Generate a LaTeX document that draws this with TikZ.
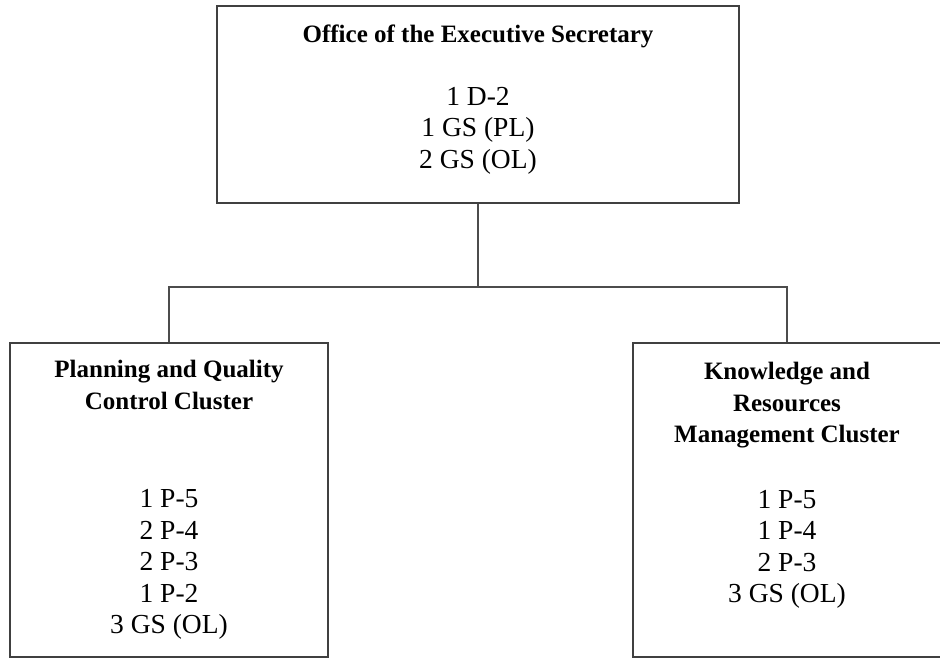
\documentclass[tikz,border=0pt]{standalone}
\usepackage{fontspec}
\setmainfont{Liberation Serif}
\usetikzlibrary{positioning}
\newcommand\headfont{\fontsize{25}{31.5}\selectfont\bfseries}

\begin{document}
\begin{tikzpicture}[x=1pt,y=-1pt,
    unit/.style={draw=black!75,line width=1.5pt,inner sep=0pt},
    staff/.style={align=center,inner sep=0pt,font=\fontsize{27.5}{31.5}\selectfont},
    link/.style={draw=black!70,line width=1.5pt}]
      \useasboundingbox (0,0) rectangle (940,658);
      \draw
        (478,104.5) node[unit,minimum width=522pt,minimum height=197pt] (exec){}
        (169,500) node[unit,minimum width=318pt,minimum height=314pt] (plan){}
        (787,500) node[unit,minimum width=308pt,minimum height=314pt] (know){};
      \node[staff,below=19pt of exec.north] (exectext)
        {{\headfont Office of the Executive Secretary}\\[31.5pt]
         1 D-2\\1 GS (PL)\\2 GS (OL)};
      \node[staff,below=18pt of plan.north] (plantext)
        {{\headfont Planning and Quality}\\{\headfont Control Cluster}\\[67pt]
         1 P-5\\2 P-4\\2 P-3\\1 P-2\\3 GS (OL)};
      \node[staff,below=20pt of know.north] (knowtext)
        {{\headfont Knowledge and}\\{\headfont Resources}\\{\headfont Management Cluster}\\[34pt]
         1 P-5\\1 P-4\\2 P-3\\3 GS (OL)};
      \coordinate (split) at (478,287);
      \begin{scope}[link]
        \draw (exec) -- (split);
        \draw (plan) |- (split) -| (know);
      \end{scope}
    \end{tikzpicture}
\end{document}
